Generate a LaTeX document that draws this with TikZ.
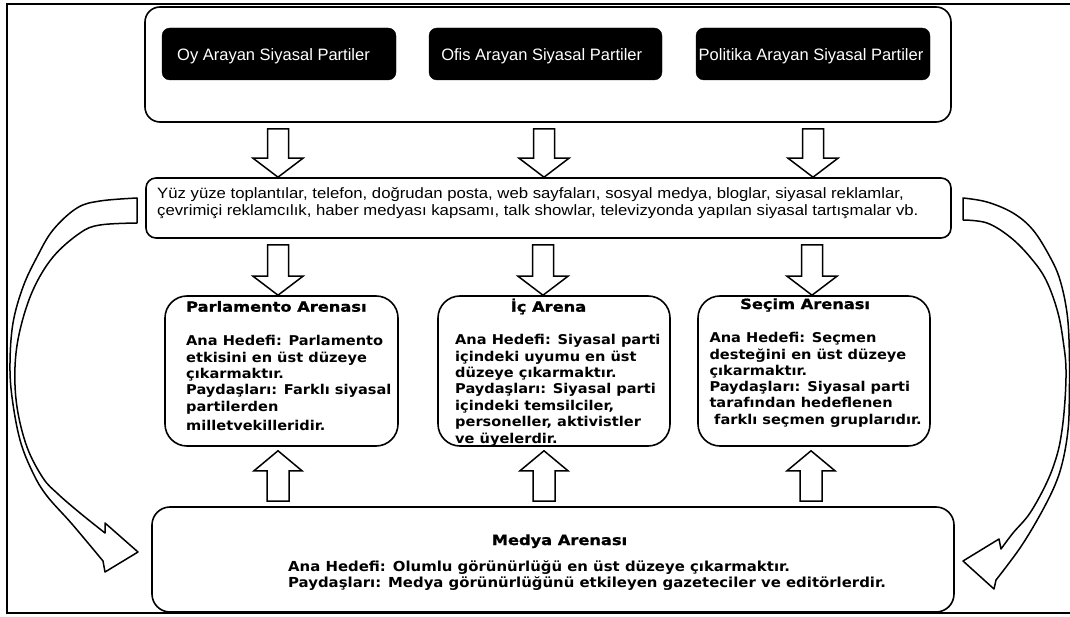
\documentclass[tikz,border=0pt]{standalone}
\usepackage{fontspec}
\setmainfont{Liberation Sans}
\newfontfamily\mediafont[FakeStretch=1.115]{Liberation Sans}
\newfontfamily\arenabody[FakeStretch=1.08]{DejaVu Sans}
\newfontfamily\arenatitle[FakeStretch=1.16,FakeBold=1.2]{DejaVu Sans}
\usetikzlibrary{calc}
\tikzset{
  frameline/.style={line width=1.6pt},
  rbox/.style={draw, line width=1.6pt, rounded corners=#1, inner sep=0pt, fill=white},
  rbox/.default=10pt,
  dark/.style={fill=black, draw=black, rounded corners=8pt, inner sep=0pt},
  blockar/.style={draw, fill=white, line width=1.5pt, line join=miter},
  curvar/.style={draw, fill=white, line width=1.5pt, line join=round},
  tl/.style={inner sep=0pt, anchor=base west},
  tc/.style={inner sep=0pt, anchor=base},
  btxt/.style={font=\fontsize{16.5}{19}\selectfont, text=white},
  mtxt/.style={font=\mediafont\fontsize{15}{17}\selectfont},
  atitle/.style={font=\arenatitle\bfseries\fontsize{14}{17}\selectfont},
  abody/.style={font=\arenabody\bfseries\fontsize{13.5}{16.7}\selectfont},
  mbody/.style={font=\arenabody\bfseries\fontsize{13.8}{16.7}\selectfont},
}
\newcommand{\downblock}[3]{%
  \draw[blockar] let \p1=(#2.south), \p2=(#3.north) in
  (#1pt-10.5pt,\y1-6pt) -- (#1pt+10.5pt,\y1-6pt) -- (#1pt+10.5pt,\y2+19pt) --
  (#1pt+25pt,\y2+19pt) -- (#1pt,\y2) -- (#1pt-25pt,\y2+19pt) --
  (#1pt-10.5pt,\y2+19pt) -- cycle;}
\newcommand{\upblock}[3]{%
  \draw[blockar] let \p1=(#2.north), \p2=(#3.south) in
  (#1pt-11pt,\y1+5pt) -- (#1pt+11pt,\y1+5pt) -- (#1pt+11pt,\y2-24pt) --
  (#1pt+24pt,\y2-24pt) -- (#1pt,\y2-4pt) -- (#1pt-24pt,\y2-24pt) --
  (#1pt-11pt,\y2-24pt) -- cycle;}
\begin{document}
\begin{tikzpicture}[x=1pt,y=-1pt]
\useasboundingbox (0,0) rectangle (1070,617);
\fill[white] (0,0) rectangle (1070,617);
% outer frame
\draw[frameline] (1070,4) -- (7,4) -- (7,613) -- (1070,613);

% top box with parties
\node[rbox=15pt, minimum width=806pt, minimum height=115pt] (top) at (548,64.5) {};
\node[dark, minimum width=234pt, minimum height=52pt] (b1) at (279,54) {};
\node[dark, minimum width=233pt, minimum height=52pt] (b2) at (545.5,54) {};
\node[dark, minimum width=234pt, minimum height=52pt] (b3) at (813,54) {};
\node[tc, btxt] (t1) at (273.5,61) {Oy Arayan Siyasal Partiler};
\node[tc, btxt] (t2) at (541.7,61) {Ofis Arayan Siyasal Partiler};
\node[tc, btxt] (t3) at (811,61) {Politika Arayan Siyasal Partiler};

% media channels box
\node[rbox=10pt, minimum width=805pt, minimum height=60pt] (media) at (548.5,208) {};
\node[tl, mtxt] (m1) at (157,199) {Yüz yüze toplantılar, telefon, doğrudan posta, web sayfaları, sosyal medya, bloglar, siyasal reklamlar,};
\node[tl, mtxt] (m2) at (157,216) {çevrimiçi reklamcılık, haber medyası kapsamı, talk showlar, televizyonda yapılan siyasal tartışmalar vb.};

% arenas
\node[rbox=22pt, minimum width=233pt, minimum height=150pt] (parl) at (281.5,371) {};
\node[rbox=22pt, minimum width=232pt, minimum height=150pt] (ic) at (554,371) {};
\node[rbox=22pt, minimum width=232pt, minimum height=150pt] (secim) at (814,371) {};

% media arena
\node[rbox=18pt, minimum width=802pt, minimum height=105pt] (medya) at (553,559.5) {};

% block arrows
\downblock{278}{top}{media}
\downblock{544}{top}{media}
\downblock{813}{top}{media}
\downblock{278}{media}{parl}
\downblock{543}{media}{ic}
\downblock{812}{media}{secim}
\upblock{278}{medya}{parl}
\upblock{544}{medya}{ic}
\upblock{811}{medya}{secim}

% curved arrows
\draw[curvar] (137,198) -- plot[smooth, tension=0.6] coordinates {(137,198) (100,201) (77,208) (53,230) (37,257) (23,287) (13,323) (10,363) (12,397) (20,440) (33,473) (47,496) (72,524) (103,561)}
  -- (105,572) -- (138,552) -- (105,523) -- (105,533)
  -- plot[smooth, tension=0.6] coordinates {(105,533) (80,513) (58,494) (43,478) (27,447) (17,407) (15,367) (20,330) (33,290) (53,257) (80,233) (100,225) (137,223)} -- cycle;
\draw[curvar] (963,198) -- plot[smooth, tension=0.6] coordinates {(963,198) (987,202) (1013,213) (1033,230) (1050,257) (1060,280) (1067,313) (1069.3,350) (1069.3,400) (1068,430) (1063,460) (1055,485) (1040,515) (1020,548) (996,580)}
  -- (994,589) -- (963,561) -- (999,539) -- (1001,549)
  -- plot[smooth, tension=0.6] coordinates {(1001,549) (1013,533) (1030,513) (1047,482) (1057,455) (1062,430) (1065,400) (1066,370) (1064,347) (1058,313) (1046,280) (1030,257) (1010,237) (987,223) (963,220)} -- cycle;

% arena texts
\node[tl, atitle] (pt) at (186,311.7) {Parlamento Arenası};
\node[tl, abody] (p1) at (186,345.7) {Ana Hedefi: Parlamento};
\node[tl, abody] (p2) at (186,362.3) {etkisini en üst düzeye};
\node[tl, abody] (p3) at (186,378.3) {çıkarmaktır.};
\node[tl, abody] (p4) at (186,394.3) {Paydaşları: Farklı siyasal};
\node[tl, abody] (p5) at (186,411) {partilerden};
\node[tl, abody] (p6) at (186,430.7) {milletvekilleridir.};

\node[tc, atitle] (it) at (548.5,311.7) {İç Arena};
\node[tl, abody] (i1) at (455,344.3) {Ana Hedefi: Siyasal parti};
\node[tl, abody] (i2) at (455,361) {içindeki uyumu en üst};
\node[tl, abody] (i3) at (455,377.7) {düzeye çıkarmaktır.};
\node[tl, abody] (i4) at (455,393.3) {Paydaşları: Siyasal parti};
\node[tl, abody] (i5) at (455,410) {içindeki temsilciler,};
\node[tl, abody] (i6) at (455,426.7) {personeller, aktivistler};
\node[tl, abody] (i7) at (455,443.3) {ve üyelerdir.};

\node[tl, atitle] (st) at (740,309) {Seçim Arenası};
\node[tl, abody] (s1) at (709.3,342.3) {Ana Hedefi: Seçmen};
\node[tl, abody] (s2) at (709.3,359) {desteğini en üst düzeye};
\node[tl, abody] (s3) at (709.3,375) {çıkarmaktır.};
\node[tl, abody] (s4) at (709.3,391) {Paydaşları: Siyasal parti};
\node[tl, abody] (s5) at (709.3,407.7) {tarafından hedeflenen};
\node[tl, abody] (s6) at (714,424) {farklı seçmen gruplarıdır.};

% media arena texts
\node[tc, atitle] (mt) at (559.5,545) {Medya Arenası};
\node[tl, mbody] (mb1) at (288,571.4) {Ana Hedefi: Olumlu görünürlüğü en üst düzeye çıkarmaktır.};
\node[tl, mbody] (mb2) at (288,587) {Paydaşları: Medya görünürlüğünü etkileyen gazeteciler ve editörlerdir.};
\end{tikzpicture}
\end{document}
